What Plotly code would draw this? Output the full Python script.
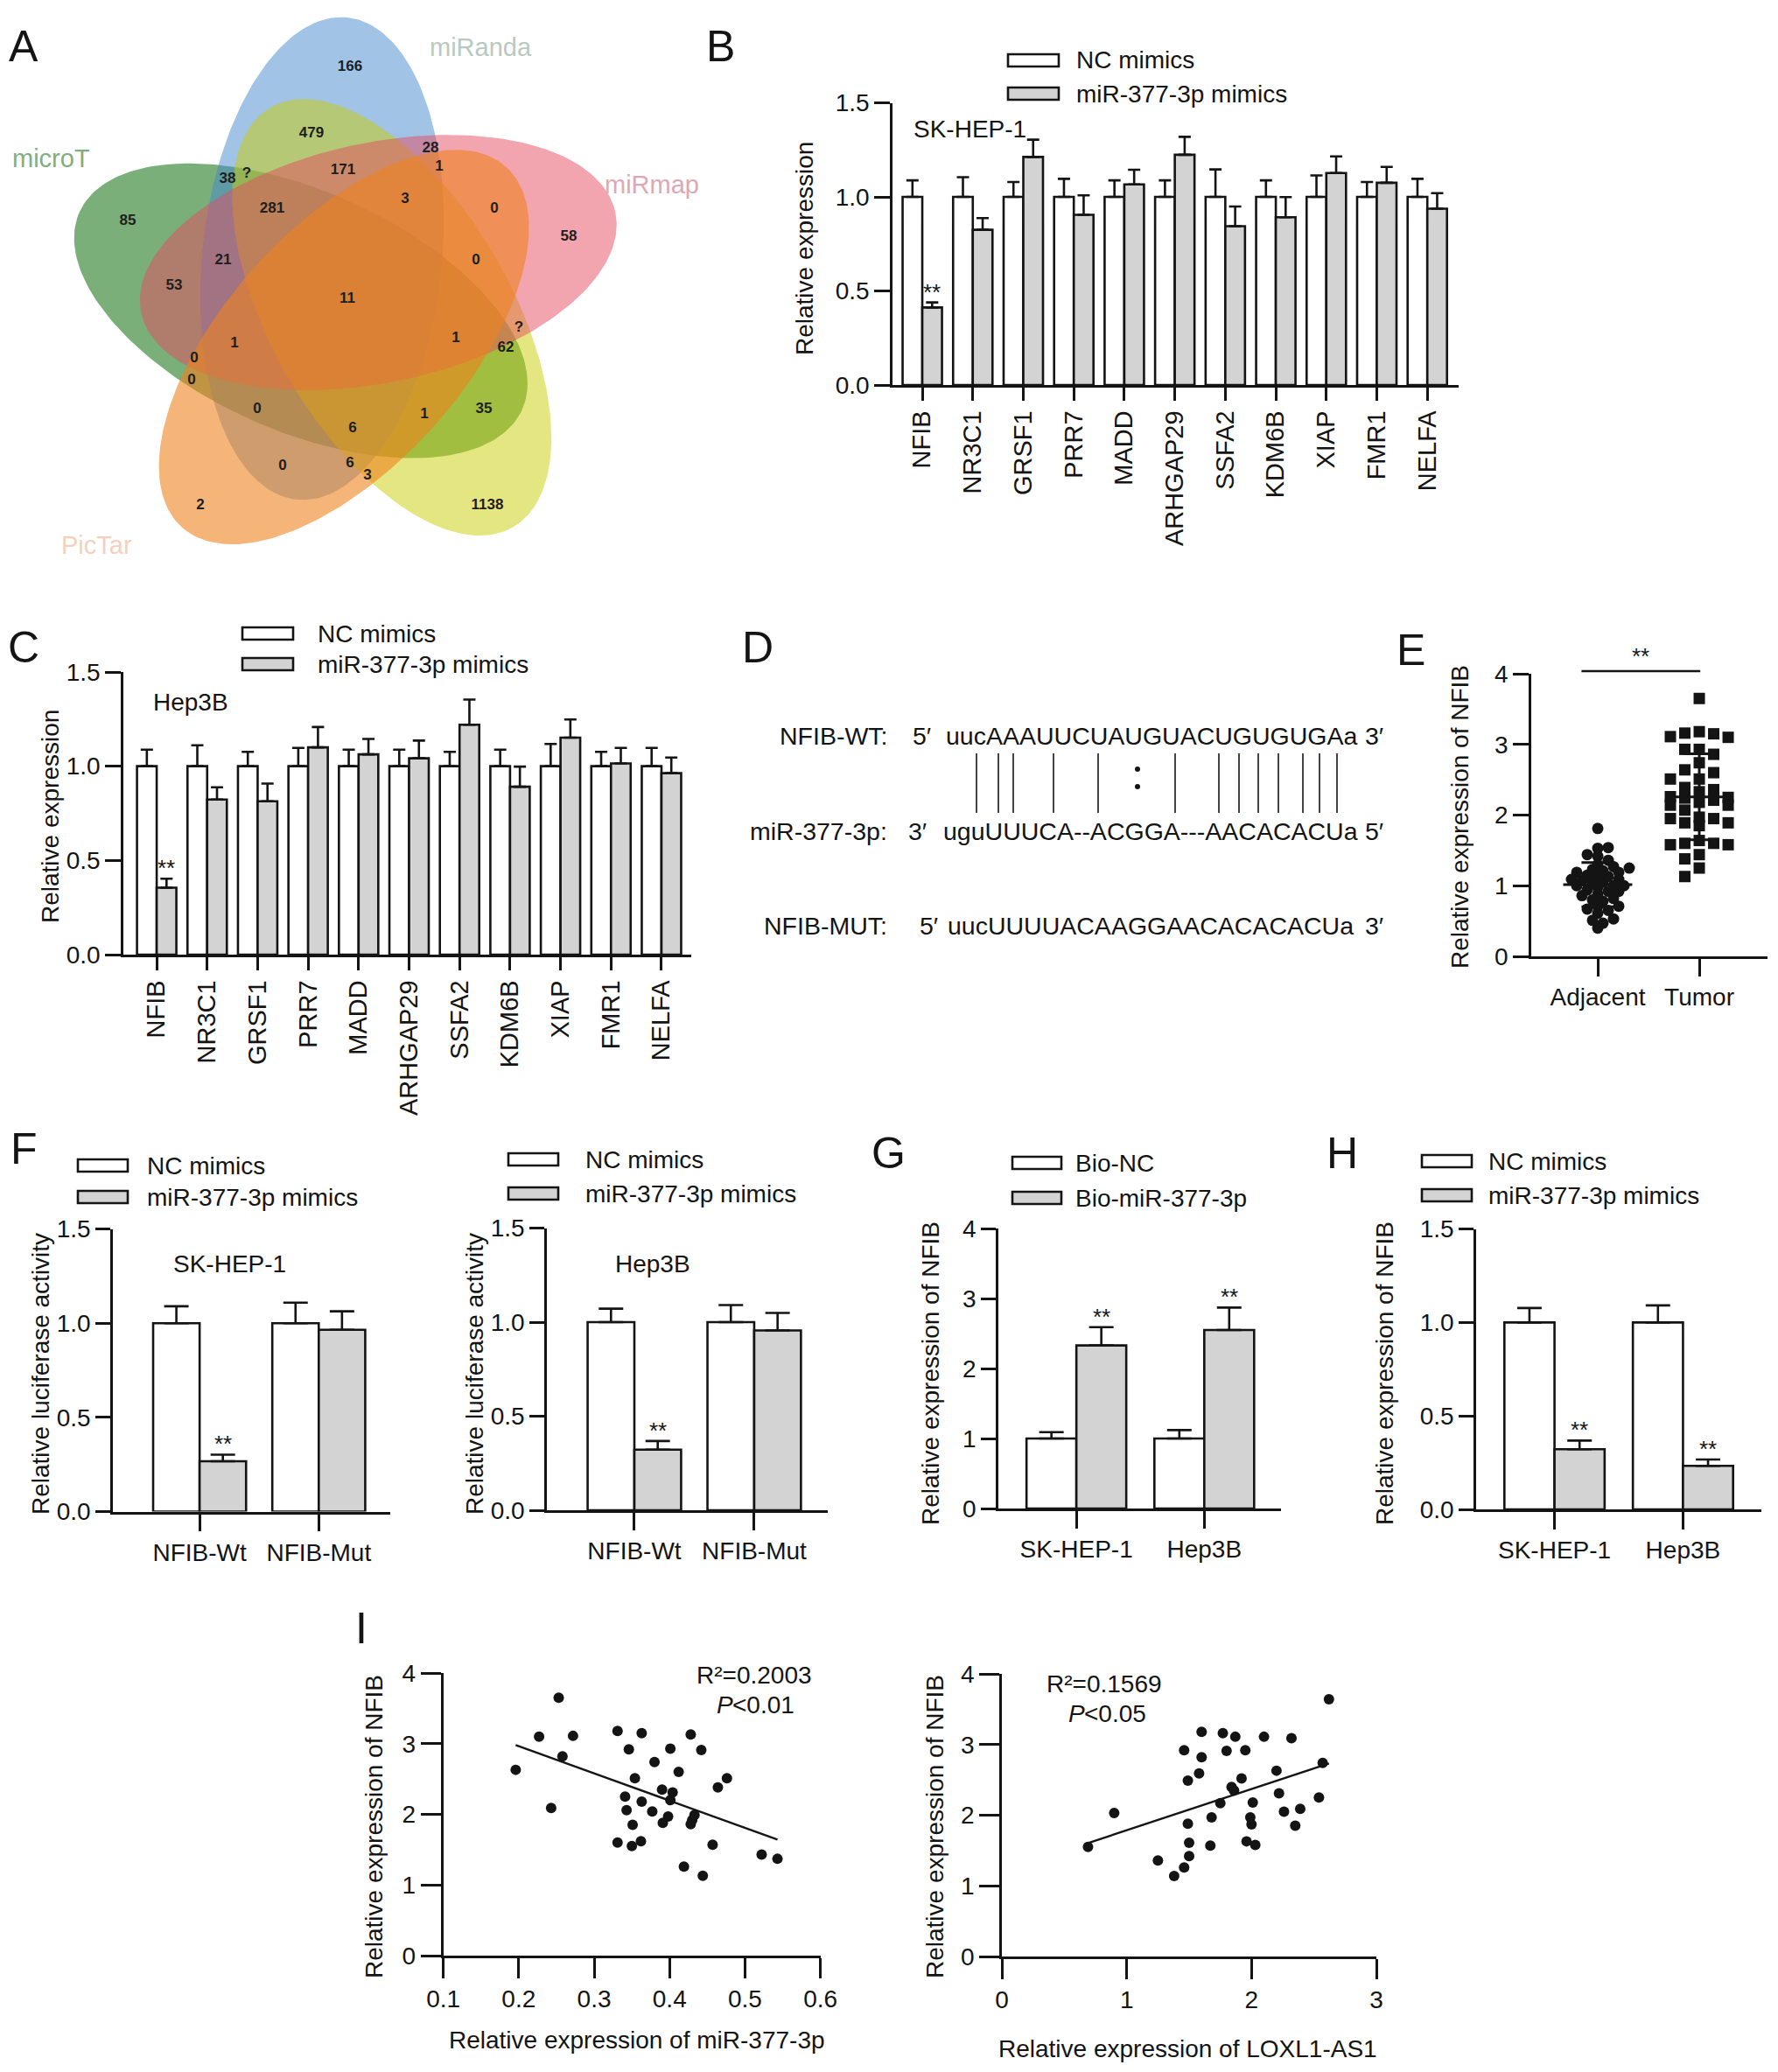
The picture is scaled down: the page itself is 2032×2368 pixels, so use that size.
import numpy as np
import plotly.graph_objects as go

W, H = 2032, 2368
OFF = 8  # page body margin that shifts the figure
FONT = "Liberation Sans, Arial, Helvetica, sans-serif"
INK = "#141414"
FILL = "#d3d3d3"
LW = 2.6
BW = 0.39  # bar width in category units

# ---------------- data ----------------
# A: Venn
venn_names = ["miRanda", "miRmap", "PicTar", "microT"]
venn_counts = ["166", "479", "28", "171", "1", "38", "?", "281", "3", "0", "85", "58", "21", "0",
               "53", "11", "?", "1", "1", "62", "0", "0", "0", "35", "1", "6", "0", "6", "3", "2", "1138"]

# B / C: candidate genes
genes = ["NFIB", "NR3C1", "GRSF1", "PRR7", "MADD", "ARHGAP29", "SSFA2", "KDM6B", "XIAP", "FMR1", "NELFA"]
sk_nc = [1.0] * 11
sk_nc_err = [0.088, 0.105, 0.079, 0.096, 0.088, 0.088, 0.146, 0.088, 0.114, 0.079, 0.096]
sk_mim = [0.412, 0.825, 1.212, 0.905, 1.066, 1.224, 0.844, 0.892, 1.127, 1.075, 0.937]
sk_mim_err = [0.027, 0.062, 0.092, 0.103, 0.078, 0.095, 0.105, 0.107, 0.088, 0.084, 0.083]
sk_sig = [True] + [False] * 10

hep_nc = [1.0] * 11
hep_nc_err = [0.088, 0.111, 0.076, 0.097, 0.088, 0.088, 0.076, 0.088, 0.118, 0.076, 0.097]
hep_mim = [0.355, 0.823, 0.814, 1.100, 1.063, 1.042, 1.220, 0.891, 1.152, 1.015, 0.963]
hep_mim_err = [0.048, 0.065, 0.094, 0.108, 0.082, 0.094, 0.134, 0.107, 0.096, 0.082, 0.083]
hep_sig = [True] + [False] * 10

# D: binding site
seq_labels = ["NFIB-WT:", "miR-377-3p:", "NFIB-MUT:"]
seq_start = ["5\u2032", "3\u2032", "5\u2032"]
seq_body = ["uucAAAUUCUAUGUACUGUGUGAa", "uguUUUCA--ACGGA---AACACACUa", "uucUUUUACAAGGAACACACACUa"]
seq_end = ["3\u2032", "5\u2032", "3\u2032"]

# E: tissue NFIB
adjacent = [1.81, 1.54, 1.53, 1.44, 1.42, 1.36, 1.30, 1.23, 1.27, 1.19, 1.19, 1.15, 1.09, 1.09,
            1.05, 1.05, 0.98, 1.00, 0.94, 0.92, 0.88, 0.86, 0.82, 0.80, 0.71, 0.71, 0.65, 0.61,
            0.51, 0.47, 0.40, 1.25, 1.13, 1.12, 1.00, 1.00, 0.92, 0.78, 0.67, 0.53, 1.07, 1.21]
tumor = [3.65, 3.18, 3.16, 3.15, 3.11, 3.10, 2.93, 2.86, 2.93, 2.74, 2.64, 2.60, 2.51, 2.51,
         2.36, 2.39, 2.33, 2.26, 2.24, 2.25, 2.21, 2.14, 2.14, 2.18, 2.07, 1.97, 1.95, 1.95,
         1.89, 1.89, 1.85, 1.58, 1.64, 1.60, 1.58, 1.60, 1.44, 1.38, 1.25, 1.13]
tissue_groups = ["Adjacent", "Tumor"]

# F: luciferase
luc_groups = ["NFIB-Wt", "NFIB-Mut"]
luc_sk_nc, luc_sk_nc_err = [1.0, 1.0], [0.09, 0.109]
luc_sk_mim, luc_sk_mim_err = [0.267, 0.965], [0.035, 0.098]
luc_hep_nc, luc_hep_nc_err = [1.0, 1.0], [0.072, 0.091]
luc_hep_mim, luc_hep_mim_err = [0.322, 0.956], [0.046, 0.093]
luc_sig = [True, False]

# G: RNA pull-down, H: NFIB after mimics
cells = ["SK-HEP-1", "Hep3B"]
bio_nc, bio_nc_err = [1.0, 1.0], [0.09, 0.12]
bio_mir, bio_mir_err = [2.33, 2.55], [0.26, 0.32]
nfib_nc, nfib_nc_err = [1.0, 1.0], [0.077, 0.091]
nfib_mim, nfib_mim_err = [0.322, 0.233], [0.046, 0.034]
cell_sig = [True, True]

# I: correlations
mir_x = [0.196, 0.227, 0.253, 0.258, 0.243, 0.272, 0.331, 0.363, 0.346, 0.380, 0.354, 0.341, 0.343,
         0.363, 0.351, 0.331, 0.350, 0.362, 0.377, 0.390, 0.391, 0.398, 0.401, 0.404, 0.401, 0.428,
         0.442, 0.412, 0.430, 0.428, 0.433, 0.464, 0.476, 0.419, 0.444, 0.457, 0.522, 0.543]
mir_y = [2.63, 3.10, 3.65, 2.82, 2.09, 3.11, 3.18, 3.15, 2.92, 2.74, 2.51, 2.25, 2.06, 2.18, 1.85,
         1.60, 1.55, 1.62, 2.04, 2.35, 1.88, 1.97, 2.20, 2.31, 2.93, 3.13, 2.91, 2.60, 1.92, 1.86,
         1.99, 2.38, 2.51, 1.26, 1.13, 1.57, 1.43, 1.37]
lox_x = [0.69, 0.90, 1.25, 1.38, 1.46, 1.50, 1.50, 1.49, 1.46, 1.49, 1.60, 1.60, 1.58, 1.68, 1.67,
         1.75, 1.77, 1.80, 1.84, 1.86, 1.87, 1.92, 1.95, 1.96, 1.99, 2.00, 2.01, 2.03, 2.10, 2.20,
         2.22, 2.26, 2.32, 2.35, 2.39, 2.54, 2.57, 2.62]
lox_y = [1.55, 2.03, 1.36, 1.14, 1.26, 1.42, 1.61, 1.88, 2.92, 2.49, 3.18, 2.82, 2.59, 1.97, 1.57,
         2.17, 3.16, 2.91, 2.40, 2.35, 3.11, 2.52, 2.92, 1.63, 1.97, 1.87, 2.18, 1.58, 3.11, 2.63,
         2.31, 2.05, 3.09, 1.85, 2.09, 2.25, 2.74, 3.64]
r2_text = ["R\u00b2=0.2003", "R\u00b2=0.1569"]
p_text = ["&lt;0.01", "&lt;0.05"]

# ---------------- layout helpers ----------------
fig = go.Figure()


def xp(x):
    return (x - OFF) / W


def yp(y):
    return 1 - (y - OFF) / H


def sfx(n):
    return "" if n == 1 else str(n)


def set_axes(n, xbox, ybox, xr, yr, xkw=None, ykw=None, hidden=False):
    s = sfx(n)
    base = dict(showline=True, linecolor=INK, linewidth=LW, ticks="outside", tickcolor=INK,
                tickwidth=LW, ticklen=16, showgrid=False, zeroline=False, automargin=False,
                tickfont=dict(family=FONT, size=28, color=INK))
    if hidden:
        base = dict(showline=False, showticklabels=False, ticks="", showgrid=False,
                    zeroline=False, automargin=False)
    xa = dict(base, domain=[xp(xbox[0]), xp(xbox[1])], range=xr, anchor="y" + s)
    ya = dict(base, domain=[yp(ybox[1]), yp(ybox[0])], range=yr, anchor="x" + s)
    xa.update(xkw or {})
    ya.update(ykw or {})
    fig.update_layout({"xaxis" + s: xa, "yaxis" + s: ya})


def text(x, y, t, size=28, xa="center", ya="middle", angle=0, color=INK, style="normal"):
    fig.add_annotation(x=xp(x), y=yp(y), xref="paper", yref="paper", text=t, showarrow=False,
                       xanchor=xa, yanchor=ya, textangle=angle,
                       font=dict(family=FONT, size=size, color=color, style=style))


def legend(x0, x1, y_rows, tx, labels, fills):
    for yc, lab, fc in zip(y_rows, labels, fills):
        fig.add_shape(type="rect", xref="paper", yref="paper", x0=xp(x0), x1=xp(x1),
                      y0=yp(yc + 7), y1=yp(yc - 7),
                      line=dict(color=INK, width=LW), fillcolor=fc)
        text(tx, yc, lab, xa="left")


def bar_pair(n, cats, a, a_err, b, b_err, sig, cap):
    s = sfx(n)
    idx = list(range(len(cats)))
    for vals, errs, fc, off in [(a, a_err, "white", -BW), (b, b_err, FILL, 0.0)]:
        fig.add_trace(go.Bar(
            x=idx, y=vals, width=BW, offset=off, xaxis="x" + s, yaxis="y" + s,
            marker=dict(color=fc, line=dict(color=INK, width=LW)),
            error_y=dict(type="data", array=errs, arrayminus=[0] * len(vals), symmetric=False,
                         color=INK, thickness=LW, width=cap),
            hoverinfo="skip", showlegend=False))
    for i, flag in enumerate(sig):
        if flag:
            fig.add_annotation(x=i + BW / 2, y=b[i] + b_err[i], xref="x" + s, yref="y" + s,
                               text="**", showarrow=False, yanchor="middle", yshift=12,
                               font=dict(family=FONT, size=26, color=INK))


# ---------------- A: Venn ----------------
set_axes(1, (8, 800), (8, 640), [8, 800], [640, 8], hidden=True)
centre = np.array([397.0, 342.0])
venn_fill = {0: "rgba(65,135,205,0.5)", 1: "rgba(229,75,95,0.5)", 2: "rgba(201,205,5,0.5)",
             3: "rgba(238,130,30,0.6)", 4: "rgba(41,126,41,0.62)"}
t = np.linspace(0, 2 * np.pi, 240)
for k in [4, 0, 2, 1, 3]:
    th = np.deg2rad(-90 + 72 * k)
    ph = th + np.deg2rad(6)
    tip = centre + 322 * np.array([np.cos(th), np.sin(th)])
    c = tip - 277 * np.array([np.cos(ph), np.sin(ph)])
    ex = c[0] + 277 * np.cos(t) * np.cos(ph) - 137 * np.sin(t) * np.sin(ph)
    ey = c[1] + 277 * np.cos(t) * np.sin(ph) + 137 * np.sin(t) * np.cos(ph)
    fig.add_trace(go.Scatter(x=ex, y=ey, mode="lines", fill="toself", fillcolor=venn_fill[k],
                             line=dict(width=0), hoverinfo="skip", showlegend=False))

venn_pos = [(400, 77), (356, 153), (492, 170), (392, 195), (502, 191), (260, 205), (282, 199),
            (311, 239), (463, 228), (565, 239), (146, 253), (650, 271), (255, 298), (544, 298),
            (199, 327), (397, 342), (593, 375), (268, 393), (521, 387), (578, 398), (222, 410),
            (219, 435), (294, 468), (553, 468), (485, 474), (403, 490), (323, 533), (400, 530),
            (420, 544), (229, 578), (557, 578)]
fig.add_trace(go.Scatter(x=[p[0] for p in venn_pos], y=[p[1] for p in venn_pos], mode="text",
                         text=venn_counts, textposition="middle center",
                         textfont=dict(family=FONT, size=17, color="#1e1e1e", weight="bold"),
                         hoverinfo="skip", showlegend=False))
name_pos = [(549, 54), (745, 211), (110, 623), (58, 181)]
name_col = ["#b9c9c0", "#dba9b4", "#f5d0bd", "#7fae7f"]
for nm, (x, y), col in zip(venn_names, name_pos, name_col):
    text(x, y, nm, size=29, color=col)

# ---------------- B ----------------
set_axes(2, (1020, 1667), (117.5, 440), [-0.59, 10.62], [0, 1.5],
         xkw=dict(tickvals=list(range(11)), ticktext=genes, tickangle=-90, ticklen=15,
                  tickfont=dict(family=FONT, size=29, color=INK)),
         ykw=dict(dtick=0.5, tickformat=".1f", ticklen=18))
bar_pair(2, genes, sk_nc, sk_nc_err, sk_mim, sk_mim_err, sk_sig, 7)
legend(1152, 1210, [69, 107], 1228, ["NC mimics", "miR-377-3p mimics"], ["white", FILL])
text(1042, 147, "SK-HEP-1", xa="left")
text(919, 284, "Relative expression", angle=-90)

# ---------------- C ----------------
set_axes(3, (141, 790), (768, 1091), [-0.66, 10.59], [0, 1.5],
         xkw=dict(tickvals=list(range(11)), ticktext=genes, tickangle=-90, ticklen=15,
                  tickfont=dict(family=FONT, size=29, color=INK)),
         ykw=dict(dtick=0.5, tickformat=".1f", ticklen=18))
bar_pair(3, genes, hep_nc, hep_nc_err, hep_mim, hep_mim_err, hep_sig, 7)
legend(277, 335, [724, 759], 361, ["NC mimics", "miR-377-3p mimics"], ["white", FILL])
text(173, 803, "Hep3B", xa="left")
text(57, 933, "Relative expression", angle=-90)

# ---------------- D ----------------
set_axes(4, (840, 1620), (700, 1100), [840, 1620], [1100, 700], hidden=True)
row_y = [841, 950, 1058]
start_x = [1041, 1036, 1049]
body_x = [1079, 1076, 1081]
for i in range(3):
    for t_, x_, anc in [(seq_labels[i], 1016, "right"), (seq_start[i], start_x[i], "left"),
                        (seq_body[i], body_x[i], "left"), (seq_end[i], 1583, "right")]:
        fig.add_annotation(x=x_, y=row_y[i], xref="x4", yref="y4", text=t_, showarrow=False,
                           xanchor=anc, yanchor="middle",
                           font=dict(family=FONT, size=28.5, color=INK))
pair_x = [1116, 1141, 1158, 1204, 1255, 1343, 1393, 1416, 1438, 1461, 1489, 1508, 1528]
lx, ly = [], []
for x_ in pair_x:
    lx += [x_, x_, None]
    ly += [861, 929, None]
fig.add_trace(go.Scatter(x=lx, y=ly, mode="lines", line=dict(color=INK, width=1.6),
                         xaxis="x4", yaxis="y4", hoverinfo="skip", showlegend=False))
fig.add_trace(go.Scatter(x=[1300, 1300], y=[879, 899], mode="markers",
                         marker=dict(color=INK, size=6), xaxis="x4", yaxis="y4",
                         hoverinfo="skip", showlegend=False))


# ---------------- E ----------------
def swarm(vals, unit_px, cat_px, step, diam):
    vals = np.asarray(vals, float)
    placed, off = [], np.zeros(len(vals))
    for i in np.argsort(vals):
        y = vals[i] * unit_px
        k = 0
        while True:
            cx = ((k + 1) // 2) * step * (1 if k % 2 else -1)
            if all((cx - a) ** 2 + (y - b) ** 2 >= diam ** 2 for a, b in placed):
                break
            k += 1
        placed.append((cx, y))
        off[i] = cx / cat_px
    return off


def column_spread(vals, unit_px, cat_px, step, gap, cols=(0, -1, 1, -2, 2)):
    vals = np.asarray(vals, float)
    placed = {c: [] for c in cols}
    off = np.zeros(len(vals))
    for i in np.argsort(-vals):
        y = vals[i] * unit_px
        dist = {c: min([abs(y - v) for v in placed[c]], default=1e9) for c in cols}
        free = [c for c in cols if dist[c] >= gap]
        col = free[0] if free else max(cols, key=lambda c: dist[c])
        placed[col].append(y)
        off[i] = col * step / cat_px
    return off


set_axes(5, (1750, 2020), (770, 1093), [-0.655, 1.672], [0, 4],
         xkw=dict(tickvals=[0, 1], ticktext=tissue_groups, ticklen=20),
         ykw=dict(dtick=1, ticklen=18))
spreads = [swarm(adjacent, 80.75, 116, 6.0, 8.0), column_spread(tumor, 80.75, 116, 16.5, 14.0)]
for gi, (vals, sym, half) in enumerate([(adjacent, "circle", 0.34), (tumor, "square", 0.33)]):
    fig.add_trace(go.Scatter(x=gi + spreads[gi], y=vals, mode="markers", xaxis="x5", yaxis="y5",
                             marker=dict(symbol=sym, size=13, color=INK, line=dict(width=0)),
                             hoverinfo="skip", showlegend=False))
    m, sd = float(np.mean(vals)), float(np.std(vals, ddof=1))
    fig.add_trace(go.Scatter(
        x=[gi - half, gi + half, None, gi, gi, None, gi - 0.16, gi + 0.16, None, gi - 0.16, gi + 0.16],
        y=[m, m, None, m - sd, m + sd, None, m + sd, m + sd, None, m - sd, m - sd],
        mode="lines", line=dict(color=INK, width=3), xaxis="x5", yaxis="y5",
        hoverinfo="skip", showlegend=False))
fig.add_shape(type="line", xref="x5", yref="paper", x0=-0.16, x1=1.01,
              y0=yp(767), y1=yp(767), line=dict(color=INK, width=2.6))
fig.add_annotation(x=0.42, y=yp(750), xref="x5", yref="paper", text="**", showarrow=False,
                   yanchor="middle", font=dict(family=FONT, size=26, color=INK))
text(1668, 934, "Relative expression of NFIB", angle=-90)

# ---------------- F ----------------
for n, xbox, ybox, xr, nc, nce, mi, mie, lab, lg in [
        (6, (129, 446), (1404.6, 1727.5), [-0.728, 1.60], luc_sk_nc, luc_sk_nc_err,
         luc_sk_mim, luc_sk_mim_err, (196, 1444, "SK-HEP-1"), (89, 146, [1332, 1368], 166)),
        (7, (625, 945.5), (1403.6, 1726), [-0.73, 1.61], luc_hep_nc, luc_hep_nc_err,
         luc_hep_mim, luc_hep_mim_err, (701, 1444, "Hep3B"), (581, 638, [1325, 1364], 667))]:
    set_axes(n, xbox, ybox, xr, [0, 1.5],
             xkw=dict(tickvals=[0, 1], ticktext=luc_groups, ticklen=20),
             ykw=dict(dtick=0.5, tickformat=".1f", ticklen=17))
    bar_pair(n, luc_groups, nc, nce, mi, mie, luc_sig, 14)
    legend(lg[0], lg[1], lg[2], lg[3], ["NC mimics", "miR-377-3p mimics"], ["white", FILL])
    text(lab[0], lab[1], lab[2], xa="left")
text(46, 1570, "Relative luciferase activity", angle=-90)
text(542, 1570, "Relative luciferase activity", angle=-90)

# ---------------- G ----------------
set_axes(8, (1141, 1464), (1404, 1724), [-0.61, 1.60], [0, 4],
         xkw=dict(tickvals=[0, 1], ticktext=cells, ticklen=20),
         ykw=dict(dtick=1, ticklen=17))
bar_pair(8, cells, bio_nc, bio_nc_err, bio_mir, bio_mir_err, cell_sig, 14)
legend(1157, 1213, [1329, 1369], 1227, ["Bio-NC", "Bio-miR-377-3p"], ["white", FILL])
text(1063, 1570, "Relative expression of NFIB", angle=-90)

# ---------------- H ----------------
set_axes(9, (1687, 2013), (1404.5, 1725), [-0.61, 1.61], [0, 1.5],
         xkw=dict(tickvals=[0, 1], ticktext=cells, ticklen=20),
         ykw=dict(dtick=0.5, tickformat=".1f", ticklen=17))
bar_pair(9, cells, nfib_nc, nfib_nc_err, nfib_mim, nfib_mim_err, cell_sig, 14)
legend(1625, 1682, [1327, 1366], 1699, ["NC mimics", "miR-377-3p mimics"], ["white", FILL])
text(1582, 1570, "Relative expression of NFIB", angle=-90)

# ---------------- I ----------------
for j, (n, xbox, ybox, xr, xs, ys, xkw, stat_pos, xt) in enumerate([
        (10, (506.6, 937.7), (1912, 2235), [0.1, 0.6], mir_x, mir_y,
         dict(dtick=0.1, tickformat=".1f"), (862, 1914, 1948, 837),
         (728, 2331, "Relative expression of miR-377-3p")),
        (11, (1145, 1573), (1913, 2236), [0, 3], lox_x, lox_y,
         dict(dtick=1), (1262, 1924, 1959, 1239),
         (1357, 2341, "Relative expression of LOXL1-AS1"))]):
    s = sfx(n)
    set_axes(n, xbox, ybox, xr, [0, 4], xkw=dict(xkw, ticklen=23), ykw=dict(dtick=1, ticklen=23))
    fig.add_trace(go.Scatter(x=xs, y=ys, mode="markers", xaxis="x" + s, yaxis="y" + s,
                             marker=dict(size=12, color=INK), hoverinfo="skip", showlegend=False))
    k, b = np.polyfit(xs, ys, 1)
    xl = np.array([min(xs), max(xs)])
    fig.add_trace(go.Scatter(x=xl, y=k * xl + b, mode="lines", line=dict(color=INK, width=2.4),
                             xaxis="x" + s, yaxis="y" + s, hoverinfo="skip", showlegend=False))
    text(stat_pos[0], stat_pos[1], r2_text[j])
    text(stat_pos[3] + 3, stat_pos[2], "P", xa="right", style="italic")
    text(stat_pos[3] - 2, stat_pos[2], p_text[j], xa="left")
    text(xt[0], xt[1], xt[2])
text(427, 2088, "Relative expression of NFIB", angle=-90)
text(1068, 2088, "Relative expression of NFIB", angle=-90)

# ---------------- panel letters ----------------
for letter, x, y in [("A", 27, 53), ("B", 823, 53), ("C", 27, 740), ("D", 866, 740),
                     ("E", 1612, 743), ("F", 27, 1313), ("G", 1015, 1318), ("H", 1534, 1318),
                     ("I", 413, 1861)]:
    text(x, y, letter, size=50)

fig.update_layout(width=W, height=H, margin=dict(l=0, r=0, t=0, b=0, pad=0, autoexpand=False),
                  paper_bgcolor="white", plot_bgcolor="white", showlegend=False,
                  barmode="overlay")

fig.write_html("out.html")
